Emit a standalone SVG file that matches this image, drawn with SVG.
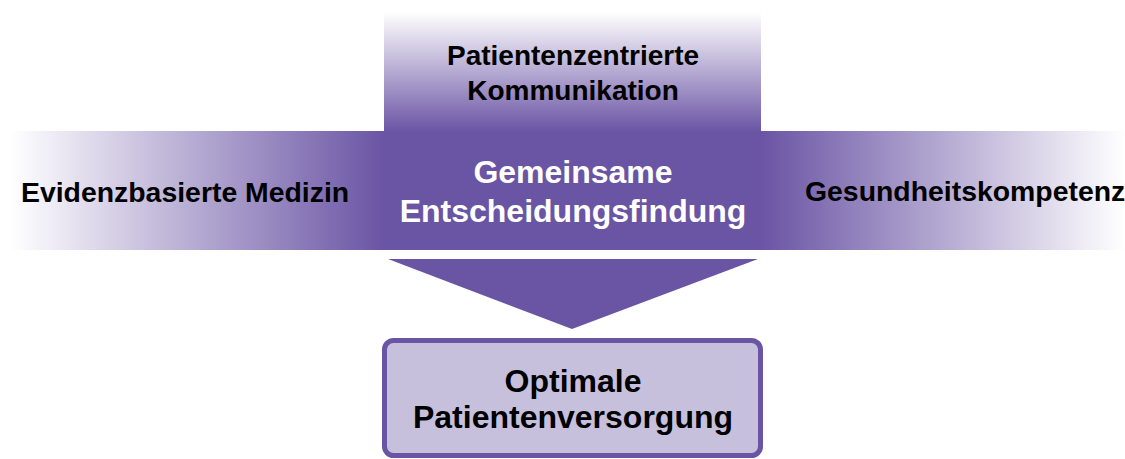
<svg xmlns="http://www.w3.org/2000/svg" width="1125" height="459" viewBox="0 0 1125 459">
<style>
.t{font-family:"Liberation Sans",Arial,sans-serif;font-weight:bold;fill:#000}
.w{fill:#fff}
.mid{text-anchor:middle}
</style>
<defs>
<linearGradient id="gTop" x1="0" y1="0" x2="0" y2="1">
<stop offset="0" stop-color="#ffffff"/>
<stop offset="1" stop-color="#6A54A4"/>
</linearGradient>
<linearGradient id="gLeft" x1="0" y1="0" x2="1" y2="0">
<stop offset="0" stop-color="#ffffff"/>
<stop offset="1" stop-color="#6A54A4"/>
</linearGradient>
<linearGradient id="gRight" x1="0" y1="0" x2="1" y2="0">
<stop offset="0" stop-color="#6A54A4"/>
<stop offset="1" stop-color="#ffffff"/>
</linearGradient>
</defs>
<rect width="1125" height="459" fill="#fff"/>
<g id="top">
<rect x="384" y="12" width="377" height="120" fill="url(#gTop)"/>
<text class="t mid" x="573" y="65" font-size="28">Patientenzentrierte</text>
<text class="t mid" x="573" y="100" font-size="28">Kommunikation</text>
</g>
<g id="left">
<rect x="10" y="131" width="375" height="119" fill="url(#gLeft)"/>
<text class="t" x="21" y="202" font-size="28.4">Evidenzbasierte Medizin</text>
</g>
<g id="right">
<rect x="760" y="131" width="365" height="119" fill="url(#gRight)"/>
<text class="t" x="805" y="201" font-size="28.4">Gesundheitskompetenz</text>
</g>
<g id="center">
<rect x="384" y="131" width="377" height="119" fill="#6A54A4"/>
<text class="t w mid" x="573" y="183" font-size="32">Gemeinsame</text>
<text class="t w mid" x="573" y="222" font-size="32">Entscheidungsfindung</text>
</g>
<g id="connectors">
<polygon points="388,259 758,259 572,329" fill="#6A54A4"/>
</g>
<g id="result">
<rect x="384.5" y="340.5" width="376" height="115" rx="9" fill="#C7C0DD" stroke="#6A54A4" stroke-width="5"/>
<text class="t mid" x="573" y="392" font-size="32">Optimale</text>
<text class="t mid" x="573" y="428" font-size="32">Patientenversorgung</text>
</g>
</svg>
